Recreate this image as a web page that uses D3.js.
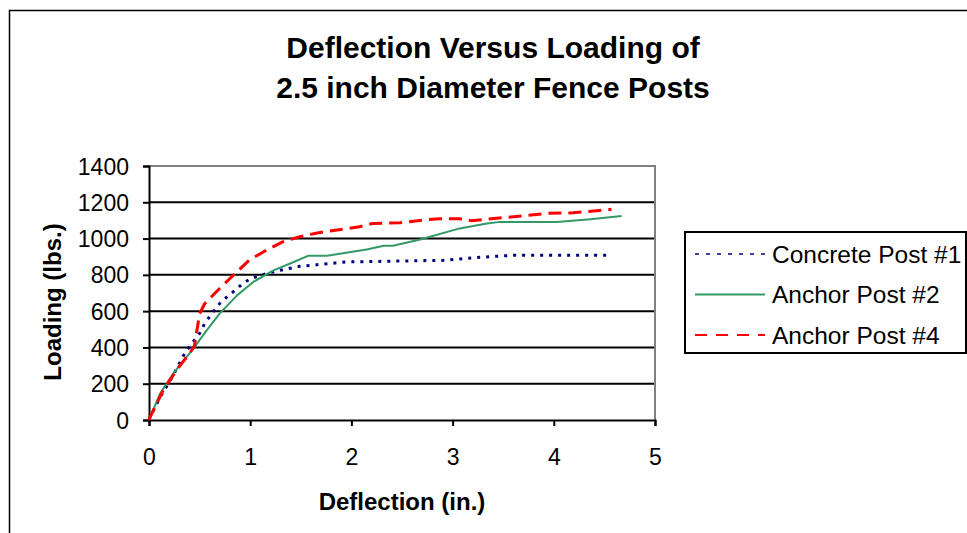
<!DOCTYPE html>
<html>
<head>
<meta charset="utf-8">
<script src="https://cdn.jsdelivr.net/npm/d3@7"></script>
<style>
  body { margin: 0; background: #fff; }
  svg { font-family: "Liberation Sans", Arial, sans-serif; }
</style>
</head>
<body>
<div id="chart"></div>
<script>
// deflection (in.) / loading (lbs.)
const concreteX = [0, 0.01, 0.11, 0.21, 0.29, 0.36, 0.5, 0.55, 0.62, 0.7, 0.77, 0.85, 0.93, 1.01, 1.16, 1.29, 1.49, 1.61, 1.94, 2.45, 2.91, 3.27, 3.6, 4.03, 4.54];
const concreteY = [0, 15, 126, 218, 301, 375, 477, 532, 586, 643, 678, 715, 754, 780, 807, 825, 847, 853, 871, 876, 880, 897, 908, 908, 908];

const anchor2X = [0, 0.01, 0.11, 0.24, 0.44, 0.57, 0.7, 0.87, 1.03, 1.23, 1.43, 1.57, 1.76, 2.15, 2.32, 2.41, 2.68, 3.07, 3.34, 3.47, 4.03, 4.36, 4.67];
const anchor2Y = [0, 15, 146, 257, 395, 494, 588, 687, 761, 825, 871, 905, 905, 940, 960, 960, 995, 1056, 1083, 1092, 1092, 1107, 1125];

const anchor4X = [0, 0.01, 0.14, 0.27, 0.41, 0.45, 0.5, 0.55, 0.7, 0.8, 0.99, 1.16, 1.32, 1.49, 1.69, 2.08, 2.21, 2.48, 2.71, 2.87, 3.07, 3.19, 3.33, 3.6, 3.93, 4.19, 4.42, 4.57];
const anchor4Y = [0, 15, 163, 273, 375, 411, 586, 641, 726, 780, 881, 936, 982, 1010, 1034, 1065, 1083, 1087, 1102, 1109, 1109, 1098, 1107, 1120, 1139, 1142, 1153, 1161];

const seriesNames = ["Concrete Post #1", "Anchor Post #2", "Anchor Post #4"];
const xTicks = [0, 1, 2, 3, 4, 5];
const yTicks = [0, 200, 400, 600, 800, 1000, 1200, 1400];

const series = [
  { name: seriesNames[0], xs: concreteX, ys: concreteY, color: "#000080", width: 3, dash: "3,6", legendWidth: 1.5, legendDash: "4,7" },
  { name: seriesNames[1], xs: anchor2X, ys: anchor2Y, color: "#339966", width: 2, dash: null, legendWidth: 2, legendDash: null },
  { name: seriesNames[2], xs: anchor4X, ys: anchor4Y, color: "#ff0000", width: 3, dash: "13,7", legendWidth: 2, legendDash: "12,9" },
];

const width = 967, height = 533;
const plot = { left: 149, right: 655, top: 166, bottom: 420 };

const svg = d3.select("#chart").append("svg")
  .attr("width", width)
  .attr("height", height);

// outer chart frame (runs off the right and bottom edges)
svg.append("rect")
  .attr("x", 9.5).attr("y", 10.5)
  .attr("width", 980).attr("height", 560)
  .attr("fill", "#fff")
  .attr("stroke", "#000")
  .attr("stroke-width", 1.5);

const x = d3.scaleLinear().domain([0, 5]).range([plot.left, plot.right]);
const y = d3.scaleLinear().domain([0, 1400]).range([plot.bottom, plot.top]);

// title
const title = svg.append("text")
  .attr("text-anchor", "middle")
  .attr("font-weight", "bold")
  .attr("font-size", 30);
title.append("tspan").attr("x", 493).attr("y", 58).text("Deflection Versus Loading of");
title.append("tspan").attr("x", 493).attr("y", 98).text("2.5 inch Diameter Fence Posts");

// gridlines
svg.append("g")
  .selectAll("line")
  .data(yTicks.filter((d) => d > 0 && d < 1400))
  .join("line")
  .attr("x1", plot.left).attr("x2", plot.right)
  .attr("y1", (d) => y(d)).attr("y2", (d) => y(d))
  .attr("stroke", "#000")
  .attr("stroke-width", 2);

// plot area border top / right
svg.append("path")
  .attr("d", `M${plot.left},${y(1400)}H${plot.right}V${plot.bottom}`)
  .attr("fill", "none")
  .attr("stroke", "#808080")
  .attr("stroke-width", 2);

// axes
const xAxis = svg.append("g")
  .attr("transform", `translate(0,${plot.bottom})`)
  .call(d3.axisBottom(x).tickValues(xTicks).tickSize(6).tickPadding(23).tickFormat(d3.format("d")));
const yAxis = svg.append("g")
  .attr("transform", `translate(${plot.left},0)`)
  .call(d3.axisLeft(y).tickValues(yTicks).tickSize(6).tickPadding(14).tickFormat(d3.format("d")));

[xAxis, yAxis].forEach((g) => {
  g.attr("font-size", 23).attr("font-family", "Liberation Sans, Arial, sans-serif");
  g.select(".domain").attr("stroke", "#000").attr("stroke-width", 2);
  g.selectAll(".tick line").attr("stroke", "#000").attr("stroke-width", 2);
  g.selectAll(".tick text").attr("fill", "#000");
});
yAxis.selectAll(".tick text").attr("dy", "0.35em");

// axis titles
svg.append("text")
  .attr("x", 402).attr("y", 510)
  .attr("text-anchor", "middle")
  .attr("font-weight", "bold")
  .attr("font-size", 24)
  .text("Deflection (in.)");

svg.append("text")
  .attr("transform", "translate(61,302) rotate(-90)")
  .attr("text-anchor", "middle")
  .attr("font-weight", "bold")
  .attr("font-size", 24)
  .text("Loading (lbs.)");

// series lines
const line = d3.line()
  .x((d) => x(d[0]))
  .y((d) => y(d[1]));

svg.append("g")
  .selectAll("path")
  .data(series)
  .join("path")
  .attr("d", (s) => line(s.xs.map((v, i) => [v, s.ys[i]])))
  .attr("fill", "none")
  .attr("stroke", (s) => s.color)
  .attr("stroke-width", (s) => s.width)
  .attr("stroke-dasharray", (s) => s.dash)
  .attr("stroke-linejoin", "round");

// legend
const legend = svg.append("g");
legend.append("rect")
  .attr("x", 685).attr("y", 232)
  .attr("width", 281).attr("height", 121)
  .attr("fill", "#fff")
  .attr("stroke", "#000")
  .attr("stroke-width", 2);

const rows = legend.selectAll("g.row")
  .data(series)
  .join("g")
  .attr("class", "row")
  .attr("transform", (d, i) => `translate(0,${254 + i * 40.5})`);

rows.append("line")
  .attr("x1", 695).attr("x2", 765)
  .attr("y1", 0).attr("y2", 0)
  .attr("stroke", (d) => d.color)
  .attr("stroke-width", (d) => d.legendWidth)
  .attr("stroke-dasharray", (d) => d.legendDash);

rows.append("text")
  .attr("x", 772)
  .attr("dy", "0.35em")
  .attr("font-size", 24.5)
  .text((d) => d.name);
</script>
</body>
</html>
